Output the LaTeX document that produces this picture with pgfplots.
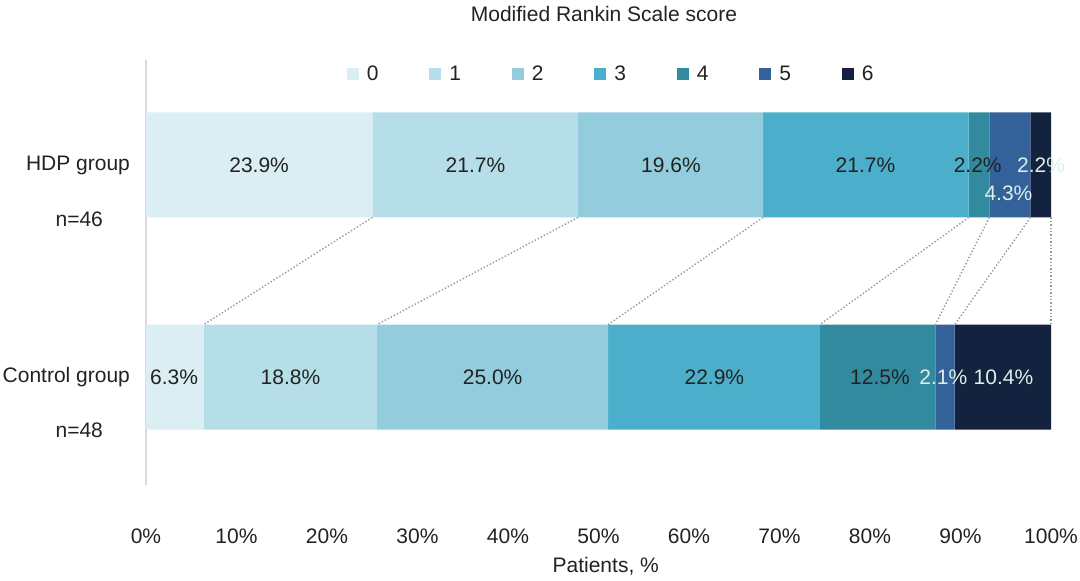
\documentclass[border=0pt]{standalone}
\usepackage{pgfplots}
\pgfplotsset{compat=1.18}
\usepackage{fontspec}
\setmainfont{Liberation Sans}
\definecolor{c0}{HTML}{DAEEF4}
\definecolor{c1}{HTML}{B6DEE8}
\definecolor{c2}{HTML}{92CCDD}
\definecolor{c3}{HTML}{4BAFCB}
\definecolor{c4}{HTML}{318A9E}
\definecolor{c5}{HTML}{33619A}
\definecolor{c6}{HTML}{13233F}
\definecolor{txtdark}{HTML}{222222}
\definecolor{txtlight}{HTML}{DCEFE8}
\definecolor{axgray}{HTML}{D9D9D9}
\definecolor{conn}{HTML}{999999}
\newcommand{\legtxt}[1]{\makebox[35.25pt][l]{\hspace{4pt}#1}}
\begin{document}
\begin{tikzpicture}[font=\fontsize{10.5}{12.6}\selectfont]
\useasboundingbox (-73pt,-48pt) rectangle (467pt,242.5pt);
\begin{axis}[
  at={(0pt,0pt)}, anchor=south west,
  scale only axis, width=452.5pt, height=212.5pt,
  xbar stacked, bar width=0.495,
  xmin=0, xmax=100, ymin=-0.509, ymax=1.495,
  clip=false,
  axis lines=left, axis line style={-},
  x axis line style={draw=none},
  y axis line style={draw=axgray, line width=0.8pt},
  major tick length=0pt,
  /pgf/number format/assume math mode=true,
  xtick={0,10,20,30,40,50,60,70,80,90,100},
  xticklabels={0\%,10\%,20\%,30\%,40\%,50\%,60\%,70\%,80\%,90\%,100\%},
  xticklabel style={anchor=base, yshift=-29.5pt, text=txtdark},
  ytick={0,1}, yticklabels={Control group,HDP group},
  yticklabel style={anchor=east, xshift=-4.5pt, text=txtdark},
  extra y ticks={0.745,-0.25},
  extra y tick labels={n=46\hspace{3pt},n=48},
  extra y tick style={yticklabel style={xshift=-13.5pt}},
  title={Modified Rankin Scale score},
  title style={anchor=base, at={(0.506,1)}, yshift=13pt, text=txtdark},
  xlabel={Patients, \%},
  xlabel style={anchor=base, at={(axis description cs:0.508,0)}, yshift=-43.75pt, text=txtdark},
  legend columns=7,
  legend style={draw=none, fill=none, at={(axis cs:22.2,1.427)}, anchor=west,
    inner sep=0pt, outer sep=0pt, column sep=0pt,
    nodes={inner sep=0pt, text=txtdark}},
  legend image code/.code={\fill[#1, draw=none] (0pt,-3pt) rectangle (6pt,3pt);},
]
\addplot[fill=c0, draw=none] coordinates {(25.00,1) (6.38,0)};
\addlegendentry{\legtxt{0}}
\addplot[fill=c1, draw=none] coordinates {(22.73,1) (19.15,0)};
\addlegendentry{\legtxt{1}}
\addplot[fill=c2, draw=none] coordinates {(20.45,1) (25.53,0)};
\addlegendentry{\legtxt{2}}
\addplot[fill=c3, draw=none] coordinates {(22.73,1) (23.40,0)};
\addlegendentry{\legtxt{3}}
\addplot[fill=c4, draw=none] coordinates {(2.27,1) (12.77,0)};
\addlegendentry{\legtxt{4}}
\addplot[fill=c5, draw=none] coordinates {(4.55,1) (2.13,0)};
\addlegendentry{\legtxt{5}}
\addplot[fill=c6, draw=none] coordinates {(2.27,1) (10.64,0)};
\addlegendentry{\legtxt{6}}
\end{axis}
\begin{axis}[
  at={(0pt,0pt)}, anchor=south west,
  scale only axis, width=452.5pt, height=212.5pt,
  xmin=0, xmax=100, ymin=-0.509, ymax=1.495,
  hide axis, clip=false,
]
\addplot[conn, densely dotted, line width=0.7pt] coordinates {(25.00,0.7525) (6.38,0.2475)};
\addplot[conn, densely dotted, line width=0.7pt] coordinates {(47.73,0.7525) (25.53,0.2475)};
\addplot[conn, densely dotted, line width=0.7pt] coordinates {(68.18,0.7525) (51.06,0.2475)};
\addplot[conn, densely dotted, line width=0.7pt] coordinates {(90.91,0.7525) (74.47,0.2475)};
\addplot[conn, densely dotted, line width=0.7pt] coordinates {(93.18,0.7525) (87.23,0.2475)};
\addplot[conn, densely dotted, line width=0.7pt] coordinates {(97.73,0.7525) (89.36,0.2475)};
\addplot[conn, densely dotted, line width=0.7pt] coordinates {(100,0.7525) (100,0.2475)};
\addplot[draw=none, mark=none, nodes near coords, point meta=explicit symbolic,
  every node near coord/.append style={anchor=center, text=txtdark}]
  coordinates {
  (12.5,1) [23.9\%]
  (36.4,1) [21.7\%]
  (58.0,1) [19.6\%]
  (79.5,1) [21.7\%]
  (91.9,1) [2.2\%]
  (3.1,0) [6.3\%]
  (15.96,0) [18.8\%]
  (38.3,0) [25.0\%]
  (62.8,0) [22.9\%]
  (81.1,0) [12.5\%]
  };
\addplot[draw=none, mark=none, nodes near coords, point meta=explicit symbolic,
  every node near coord/.append style={anchor=center, text=txtlight}]
  coordinates {
  (95.3,0.868) [4.3\%]
  (98.9,1) [2.2\%]
  (88.1,0) [2.1\%]
  (94.75,0) [10.4\%]
  };
\end{axis}
\end{tikzpicture}
\end{document}
